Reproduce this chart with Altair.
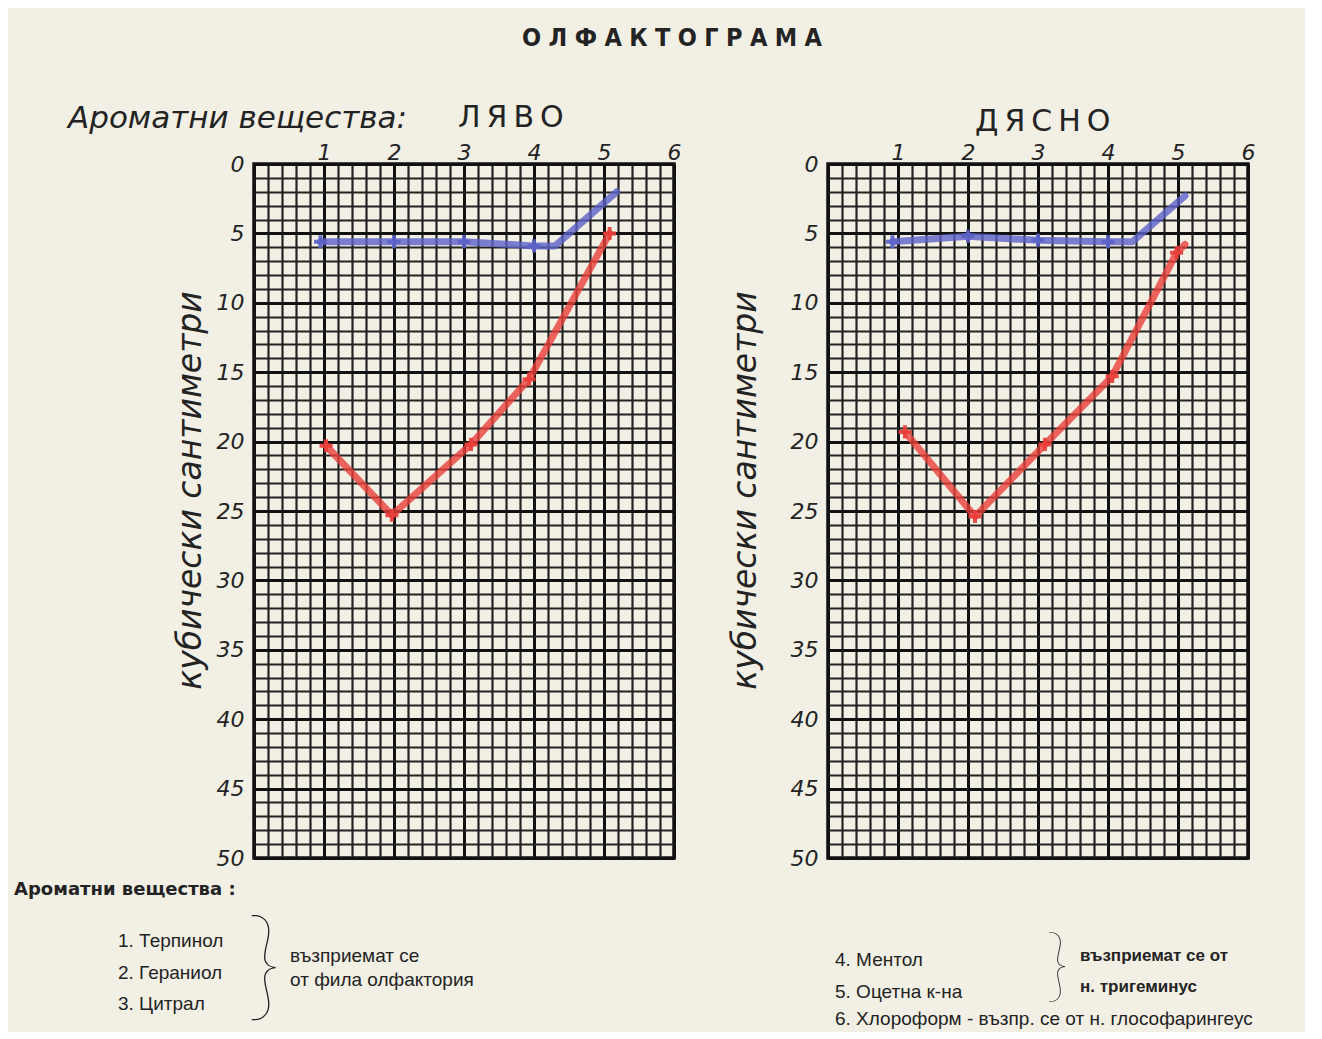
import altair as alt
import pandas as pd

# ---- data ----
X_TICKS = [1, 2, 3, 4, 5, 6]
X_MAJOR = [0, 1, 2, 3, 4, 5, 6]
Y_TICKS = [0, 5, 10, 15, 20, 25, 30, 35, 40, 45, 50]
X_MINOR = [i / 5 for i in range(31)]
Y_MINOR = list(range(51))

# ЛЯВО (left)
LEFT_RED_X = [1.03, 1.97, 3.1, 3.93, 5.08]
LEFT_RED_Y = [20.3, 25.3, 20.2, 15.5, 5.0]
LEFT_RED_MARK = [True, True, True, True, True]
LEFT_BLUE_X = [0.95, 2.0, 3.0, 4.0, 4.3, 5.18]
LEFT_BLUE_Y = [5.6, 5.6, 5.6, 5.9, 5.9, 2.0]
LEFT_BLUE_MARK = [True, True, True, True, False, False]

# ДЯСНО (right)
RIGHT_RED_X = [1.1, 2.1, 3.1, 4.06, 4.98, 5.1]
RIGHT_RED_Y = [19.3, 25.4, 20.2, 15.3, 6.4, 5.8]
RIGHT_RED_MARK = [True, True, True, True, True, False]
RIGHT_BLUE_X = [0.92, 2.0, 3.0, 4.0, 4.35, 5.1]
RIGHT_BLUE_Y = [5.6, 5.2, 5.5, 5.6, 5.6, 2.3]
RIGHT_BLUE_MARK = [True, True, True, True, False, False]

SERIES = ["red", "blue"]
COLORS = ["#ea3e3a", "#5c62c8"]

PAPER = "#f2efe5"
INK = "#232323"
NUM_FONT = "DejaVu Sans"
TXT_FONT = "Liberation Sans"

W, H = 420, 694


def frame(rx, ry, rm, bx, by, bm):
    rows = []
    for i, (x, y, m) in enumerate(zip(rx, ry, rm)):
        rows.append({"x": x, "y": y, "s": "red", "i": i, "m": m})
    for i, (x, y, m) in enumerate(zip(bx, by, bm)):
        rows.append({"x": x, "y": y, "s": "blue", "i": i, "m": m})
    return pd.DataFrame(rows)


ONE = alt.Data(values=[{}])


def label(txt, x, y, size=18, font=TXT_FONT, weight="normal", style="normal",
          align="left", baseline="alphabetic", color=INK):
    return alt.Chart(ONE).mark_text(
        fontSize=size, font=font, fontWeight=weight, fontStyle=style,
        align=align, baseline=baseline, color=color,
    ).encode(x=alt.value(x), y=alt.value(y), text=alt.value(txt))


def panel(df, title_x, title_y, texts):
    xs = alt.Scale(domain=[0, 6], nice=False, zero=False)
    ys = alt.Scale(domain=[0, 50], reverse=True, nice=False, zero=False)
    minor = alt.Chart(df).mark_line(opacity=0).encode(
        x=alt.X("x:Q", scale=xs, axis=alt.Axis(
            orient="bottom", values=X_MINOR, grid=True, gridColor=INK,
            gridWidth=2.2, gridOpacity=1, labels=False, ticks=False,
            domain=False, title=None)),
        y=alt.Y("y:Q", scale=ys, axis=alt.Axis(
            orient="right", values=Y_MINOR, grid=True, gridColor=INK,
            gridWidth=2.2, gridOpacity=1, labels=False, ticks=False,
            domain=False, title=None)),
    )
    major = alt.Chart(df).mark_line(opacity=0).encode(
        x=alt.X("x:Q", scale=xs, axis=alt.Axis(
            orient="bottom", values=X_MAJOR, grid=True, gridColor="#111",
            gridWidth=3, gridOpacity=1, labels=False, ticks=False,
            domain=False, title=None)),
        y=alt.Y("y:Q", scale=ys, axis=None),
    )
    lines = alt.Chart(df).mark_line(
        strokeWidth=7, opacity=0.8, strokeCap="round", strokeJoin="round"
    ).encode(
        x=alt.X("x:Q", scale=xs, axis=alt.Axis(
            orient="top", values=X_TICKS, grid=False, ticks=False,
            domain=False, labelFont=NUM_FONT, labelFontStyle="italic",
            labelFontSize=22, labelColor=INK, labelPadding=0,
            labelFlush=False, title=None)),
        y=alt.Y("y:Q", scale=ys, axis=alt.Axis(
            orient="left", values=Y_TICKS, grid=True, gridColor="#111",
            gridWidth=3, gridOpacity=1, ticks=False, domain=False,
            labelFont=NUM_FONT, labelFontStyle="italic", labelFontSize=22,
            labelColor=INK, labelPadding=10, labelFlush=False,
            title="кубически сантиметри", titleFont=NUM_FONT,
            titleFontStyle="italic", titleFontWeight="normal",
            titleFontSize=33, titleColor=INK, titleAngle=270,
            titleX=title_x, titleY=title_y, titleAlign="center",
            titleBaseline="middle")),
        color=alt.Color("s:N", scale=alt.Scale(domain=SERIES, range=COLORS),
                        legend=None),
        detail="s:N",
        order="i:Q",
    )
    marks = alt.Chart(df).transform_filter("datum.m").mark_point(
        shape="M-1,0L1,0M0,-1L0,1", size=170, filled=False, strokeWidth=4,
        opacity=0.9,
    ).encode(
        x=alt.X("x:Q", scale=xs, axis=None),
        y=alt.Y("y:Q", scale=ys, axis=None),
        color=alt.Color("s:N", scale=alt.Scale(domain=SERIES, range=COLORS),
                        legend=None),
    )
    return alt.layer(minor, major, lines, marks, *texts).resolve_axis(
        x="independent", y="independent"
    ).properties(width=W, height=H)


left_texts = [
    label("О\u2004Л\u2004Ф\u2004А\u2004К\u2004Т\u2004О\u2004Г\u2004Р\u2004А\u2004М\u2004А",
          418, -126, size=25, font="Liberation Sans Narrow, DejaVu Sans Condensed, Liberation Sans",
          weight="bold", align="center", baseline="middle"),
    label("Ароматни вещества:", -186, -36, size=31, font=NUM_FONT, style="italic"),
    label("Л\u2009Я\u2009В\u2009О", 204, -37, size=30, font=NUM_FONT),
    label("Ароматни вещества :", -240, 731, size=18, font=NUM_FONT, weight="bold"),
    label("1. Терпинол", -136, 783, size=19),
    label("2. Гераниол", -136, 815, size=19),
    label("3. Цитрал", -136, 846, size=19),
    label("}", 10, 806, size=120, font="Lato", weight=100, align="center",
          baseline="middle"),
    label("възприемат се", 36, 798, size=19),
    label("от фила олфактория", 36, 822, size=19),
]

right_texts = [
    label("Д\u2009Я\u2009С\u2009Н\u2009О", 147, -33, size=30, font=NUM_FONT),
    label("4. Ментол", 7, 802, size=19),
    label("5. Оцетна к-на", 7, 834, size=19),
    label("6. Хлороформ - възпр. се от н. глософарингеус", 7, 861, size=19),
    label("}", 229, 804, size=80, font="Lato", weight=100, align="center",
          baseline="middle"),
    label("възприемат се от", 252, 797, size=17, weight="bold"),
    label("н. тригеминус", 252, 828, size=17, weight="bold"),
]

left = panel(frame(LEFT_RED_X, LEFT_RED_Y, LEFT_RED_MARK,
                   LEFT_BLUE_X, LEFT_BLUE_Y, LEFT_BLUE_MARK),
             -64, 326, left_texts)
right = panel(frame(RIGHT_RED_X, RIGHT_RED_Y, RIGHT_RED_MARK,
                    RIGHT_BLUE_X, RIGHT_BLUE_Y, RIGHT_BLUE_MARK),
              -83, 326, right_texts)

chart = alt.hconcat(left, right, spacing=154, bounds="flush").properties(
    padding={"left": 4, "top": 16, "right": 48, "bottom": 0},
    background=PAPER,
).configure_view(stroke="#111", strokeWidth=3.5)

chart.save("out.html", embed_options={"renderer": "svg", "actions": False})
